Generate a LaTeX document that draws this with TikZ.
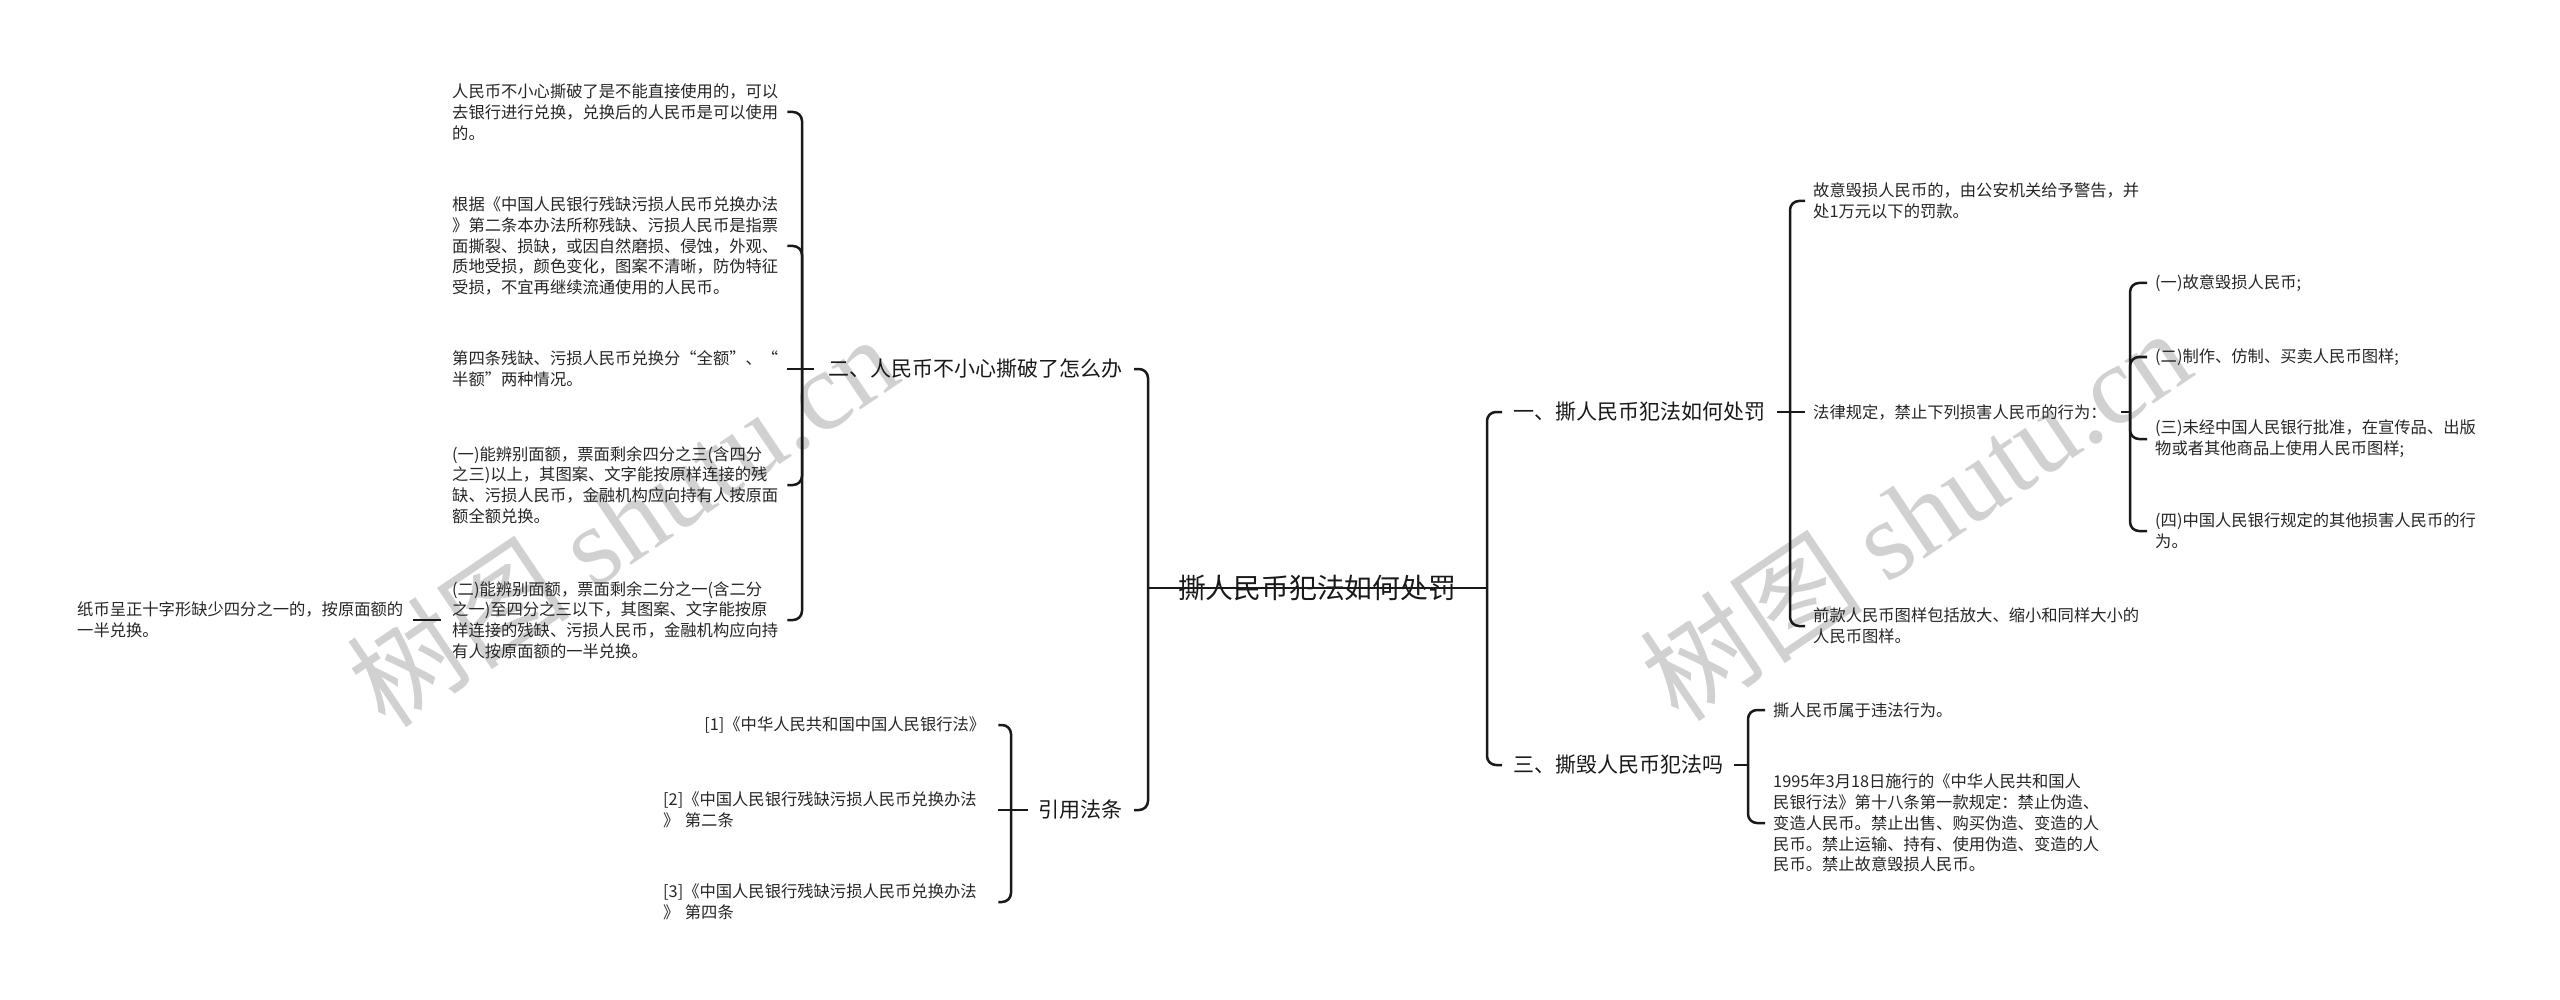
\documentclass[tikz,border=0pt]{standalone}
\usepackage{fontspec}
\setmainfont{Noto Sans CJK SC}
\newfontfamily\wmlatin{Liberation Serif}
\newfontfamily\wmcjk{Noto Sans CJK SC}
\begin{document}
\begin{tikzpicture}[x=1pt,y=-1pt,
  conn/.style={line width=2.5pt, rounded corners=9pt, draw=black!90},
  leaf/.style={inner sep=0pt, align=left, anchor=west, text=black!85,
    font=\fontsize{16.3}{20.8}\selectfont},
  leftleaf/.style={leaf, text width=330pt},
  branch/.style={inner sep=0pt, text=black!90, font=\fontsize{21}{25}\selectfont},
  wm/.style={rotate=34, text=black!18, inner sep=0pt}
]
\useasboundingbox (0,0) rectangle (2560,1000);
\fill[white] (0,0) rectangle (2560,1000);

% watermarks
\node[wm] (wm1) at (622,520) {\fontsize{112}{118}\wmcjk 树图 \wmlatin shutu.cn};
\node[wm] (wm2) at (1915,514) {\fontsize{112}{118}\wmcjk 树图 \wmlatin shutu.cn};

% central
\coordinate (cl) at (1148,588);
\coordinate (cr) at (1487,588);
\draw[conn] (cl) -- (cr);
\node[inner sep=0pt, text=black!90, font=\fontsize{27.8}{32}\selectfont] (c) at (1317,588) {撕人民币犯法如何处罚};

% level 1
\node[branch, anchor=east] (b2) at (1123,369) {二、人民币不小心撕破了怎么办};
\node[branch, anchor=east] (b4) at (1123,810) {引用法条};
\node[branch, anchor=west] (b1) at (1513,412) {一、撕人民币犯法如何处罚};
\node[branch, anchor=west] (b3) at (1513,765) {三、撕毁人民币犯法吗};

\draw[conn] (cl) |- ([xshift=11pt]b2.east);
\draw[conn] (cl) |- ([xshift=11pt]b4.east);
\draw[conn] (cr) |- ([xshift=-11pt]b1.west);
\draw[conn] (cr) |- ([xshift=-11pt]b3.west);

% branch 二
\coordinate (j2) at (802,369);
\draw[conn] ([xshift=-15pt]b2.west) -- (j2);
\node[leftleaf] (a1) at (452,112) {人民币不小心撕破了是不能直接使用的，可以\\去银行进行兑换，兑换后的人民币是可以使用\\的。};
\node[leftleaf] (a2) at (452,246) {根据《中国人民银行残缺污损人民币兑换办法\\》第二条本办法所称残缺、污损人民币是指票\\面撕裂、损缺，或因自然磨损、侵蚀，外观、\\质地受损，颜色变化，图案不清晰，防伪特征\\受损，不宜再继续流通使用的人民币。};
\node[leftleaf] (a3) at (452,369) {第四条残缺、污损人民币兑换分“全额”、“\\半额”两种情况。};
\node[leftleaf] (a4) at (452,485) {(一)能辨别面额，票面剩余四分之三(含四分\\之三)以上，其图案、文字能按原样连接的残\\缺、污损人民币，金融机构应向持有人按原面\\额全额兑换。};
\node[leftleaf] (a5) at (452,620) {(二)能辨别面额，票面剩余二分之一(含二分\\之一)至四分之三以下，其图案、文字能按原\\样连接的残缺、污损人民币，金融机构应向持\\有人按原面额的一半兑换。};
\foreach \n in {a1,a2,a4,a5} \draw[conn] (j2) |- ([xshift=5pt]\n.east);
\draw[conn] (j2) -- ([xshift=5pt]a3.east);
\node[leftleaf] (a6) at (77,620) {纸币呈正十字形缺少四分之一的，按原面额的\\一半兑换。};
\draw[conn] ([xshift=-11pt]a5.west) -- ([xshift=6pt]a6.east);

% branch 引用法条
\coordinate (j4) at (1011,810);
\draw[conn] ([xshift=-11pt]b4.west) -- (j4);
\node[leaf, text width=322pt, align=right] (l1) at (663,725) {[1]《中华人民共和国中国人民银行法》};
\node[leaf, text width=322pt] (l2) at (663,810) {[2]《中国人民银行残缺污损人民币兑换办法\\》 第二条};
\node[leaf, text width=322pt] (l3) at (663,902) {[3]《中国人民银行残缺污损人民币兑换办法\\》 第四条};
\draw[conn] (j4) |- ([xshift=13pt]l1.east);
\draw[conn] (j4) -- ([xshift=13pt]l2.east);
\draw[conn] (j4) |- ([xshift=13pt]l3.east);

% branch 一
\coordinate (j1) at (1790,412);
\draw[conn] ([xshift=12pt]b1.east) -- (j1);
\node[leaf] (r1) at (1813,201) {故意毁损人民币的，由公安机关给予警告，并\\处1万元以下的罚款。};
\node[leaf] (r2) at (1813,412) {法律规定，禁止下列损害人民币的行为：};
\node[leaf] (r3) at (1813,626) {前款人民币图样包括放大、缩小和同样大小的\\人民币图样。};
\draw[conn] (j1) |- ([xshift=-8pt]r1.west);
\draw[conn] (j1) -- ([xshift=-8pt]r2.west);
\draw[conn] (j1) |- ([xshift=-8pt]r3.west);

\coordinate (j5) at (2130,412);
\draw[conn] ([xshift=14pt]r2.east) -- (j5);
\node[leaf] (s1) at (2155,283) {(一)故意毁损人民币;};
\node[leaf] (s2) at (2155,357) {(二)制作、仿制、买卖人民币图样;};
\node[leaf] (s3) at (2155,439) {(三)未经中国人民银行批准，在宣传品、出版\\物或者其他商品上使用人民币图样;};
\node[leaf] (s4) at (2155,531) {(四)中国人民银行规定的其他损害人民币的行\\为。};
\foreach \n in {s1,s2,s3,s4} \draw[conn] (j5) |- ([xshift=-8pt]\n.west);

% branch 三
\coordinate (j3) at (1748,765);
\draw[conn] ([xshift=11pt]b3.east) -- (j3);
\node[leaf] (t1) at (1773,710) {撕人民币属于违法行为。};
\node[leaf] (t2) at (1773,823) {1995年3月18日施行的《中华人民共和国人\\民银行法》第十八条第一款规定：禁止伪造、\\变造人民币。禁止出售、购买伪造、变造的人\\民币。禁止运输、持有、使用伪造、变造的人\\民币。禁止故意毁损人民币。};
\draw[conn] (j3) |- ([xshift=-8pt]t1.west);
\draw[conn] (j3) |- ([xshift=-8pt]t2.west);
\end{tikzpicture}
\end{document}
